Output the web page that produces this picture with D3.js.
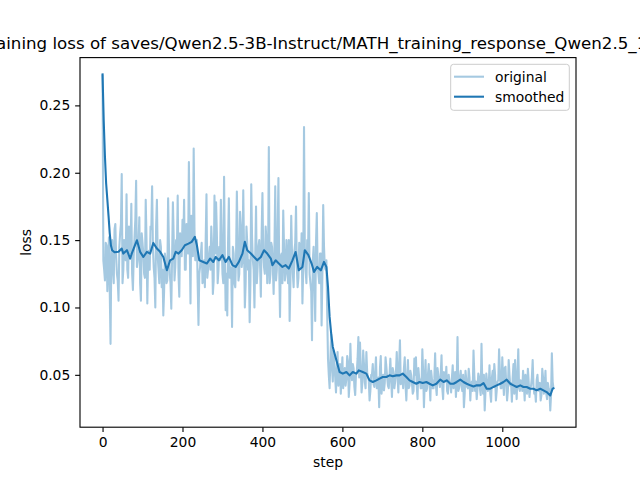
<!DOCTYPE html>
<html><head><meta charset="utf-8">
<script src="https://cdn.jsdelivr.net/npm/d3@7"></script>
<style>
body{margin:0;background:#fff}
svg{display:block}
text{font-family:"DejaVu Sans",sans-serif}
</style>
</head><body>
<svg id="chart" width="640" height="480"></svg>
<script>
const TITLE = "Training loss of saves/Qwen2.5-3B-Instruct/MATH_training_response_Qwen2.5_1.5B";
const X_LABEL = "step";
const Y_LABEL = "loss";
const seriesNames = ["original", "smoothed"];
const xTicks = [0, 200, 400, 600, 800, 1000];
const yTicks = [0.05, 0.10, 0.15, 0.20, 0.25];

// original loss read at steps 0, 4, 8, ... 1128
const lossAtStepMod4 = [
0.273, 0.128, 0.148, 0.112, 0.152, 0.073,
0.150, 0.118, 0.162, 0.125, 0.105, 0.155, 0.199, 0.128, 0.145, 0.184,
0.122, 0.140, 0.177, 0.113, 0.152, 0.194, 0.135, 0.167, 0.105, 0.148,
0.125, 0.180, 0.103, 0.142, 0.160, 0.190, 0.130, 0.100, 0.180, 0.128,
0.150, 0.115, 0.094, 0.140, 0.118, 0.181, 0.125, 0.099, 0.178, 0.120,
0.150, 0.183, 0.108, 0.140, 0.165, 0.180, 0.128, 0.152, 0.208, 0.103,
0.160, 0.218, 0.135, 0.150, 0.087, 0.130, 0.148, 0.120, 0.115, 0.184,
0.128, 0.145, 0.160, 0.110, 0.183,
0.178, 0.118, 0.145, 0.180, 0.125, 0.197, 0.098, 0.094, 0.181, 0.130,
0.0855, 0.140, 0.115, 0.186, 0.120, 0.171, 0.130, 0.187, 0.100, 0.160,
0.128, 0.089, 0.1915, 0.135, 0.100, 0.175, 0.130, 0.150, 0.108, 0.185,
0.130, 0.160, 0.118, 0.219, 0.125, 0.145, 0.110, 0.190, 0.128, 0.196,
0.093, 0.140, 0.172, 0.120, 0.150, 0.118, 0.090, 0.168, 0.125, 0.142,
0.175, 0.115, 0.148, 0.130, 0.103, 0.234, 0.128, 0.150, 0.185, 0.118,
0.0757, 0.145, 0.090, 0.170, 0.125, 0.140, 0.0867, 0.176, 0.130, 0.135,
0.062, 0.040,
0.080, 0.045, 0.058, 0.037, 0.067, 0.048, 0.036, 0.063, 0.050, 0.042,
0.064, 0.0335, 0.073, 0.046, 0.055, 0.035, 0.052, 0.078, 0.074, 0.037,
0.068, 0.045, 0.067, 0.048, 0.031, 0.050, 0.058, 0.041, 0.063, 0.044,
0.026, 0.064, 0.045, 0.0385, 0.063, 0.048, 0.040, 0.062, 0.0335, 0.052,
0.045, 0.067, 0.037, 0.0756, 0.046, 0.040, 0.063, 0.031, 0.061, 0.042,
0.050, 0.036, 0.062, 0.063, 0.032, 0.048, 0.040, 0.069, 0.026, 0.061,
0.040, 0.058, 0.031, 0.047, 0.040, 0.066, 0.035, 0.050, 0.041,
0.0645, 0.032, 0.048, 0.056, 0.036, 0.045, 0.037, 0.057, 0.042, 0.0335,
0.078, 0.040, 0.053, 0.038, 0.026, 0.053, 0.041, 0.0545, 0.031, 0.045,
0.068, 0.038, 0.032, 0.051, 0.040, 0.073, 0.036, 0.0236, 0.051, 0.038,
0.057, 0.030, 0.053, 0.058, 0.031, 0.045, 0.069, 0.040, 0.063, 0.035,
0.056, 0.031, 0.061, 0.042, 0.030, 0.058, 0.061, 0.032, 0.069, 0.038,
0.045, 0.053, 0.031, 0.044, 0.0545, 0.0335, 0.042, 0.061, 0.036, 0.030,
0.050, 0.038, 0.031, 0.0545, 0.036, 0.053, 0.032, 0.040, 0.0236, 0.066,
0.040
];

// original loss read at steps 2, 6, 10, ... 1126
const lossAtStepMod4Plus2 = [
0.135, 0.120, 0.146, 0.132, 0.112, 0.140, 0.128, 0.158, 0.138, 0.120,
0.145, 0.162, 0.118, 0.150, 0.135, 0.128, 0.160, 0.142, 0.125, 0.138,
0.165, 0.130, 0.148, 0.118, 0.155, 0.140, 0.122, 0.150, 0.135, 0.128,
0.158, 0.145, 0.122, 0.160, 0.138, 0.118, 0.145, 0.128, 0.112, 0.135,
0.120, 0.148, 0.118, 0.138, 0.152, 0.130, 0.142, 0.125, 0.155, 0.138,
0.145, 0.128, 0.162, 0.140, 0.150, 0.168, 0.138, 0.158, 0.145, 0.118,
0.125, 0.140, 0.118, 0.135, 0.150, 0.122, 0.138, 0.128, 0.145, 0.120,
0.140, 0.155, 0.128, 0.135, 0.150, 0.118, 0.138, 0.125, 0.148, 0.122,
0.128, 0.145, 0.118, 0.138, 0.150, 0.125, 0.160, 0.135, 0.142, 0.118,
0.148, 0.135, 0.120, 0.152, 0.128, 0.140, 0.118, 0.145, 0.132, 0.155,
0.140, 0.125, 0.150, 0.135, 0.118, 0.148, 0.130, 0.142, 0.120, 0.155,
0.128, 0.138, 0.118, 0.145, 0.125, 0.135, 0.150, 0.120, 0.140, 0.115,
0.148, 0.130, 0.122, 0.140, 0.155, 0.128, 0.145, 0.118, 0.138, 0.125,
0.112, 0.135, 0.120, 0.148, 0.130, 0.118, 0.140, 0.125, 0.145, 0.128,
0.095, 0.050, 0.062,
0.055, 0.068, 0.048, 0.056, 0.042, 0.058, 0.050,
0.040, 0.055, 0.047, 0.060, 0.044, 0.052, 0.058, 0.041, 0.050, 0.062,
0.048, 0.055, 0.044, 0.058, 0.040, 0.052, 0.046, 0.038, 0.050, 0.043,
0.052, 0.040, 0.048, 0.055, 0.036, 0.050, 0.044, 0.056, 0.042, 0.050,
0.046, 0.055, 0.040, 0.052, 0.048, 0.058, 0.043, 0.050, 0.055, 0.042,
0.048, 0.040, 0.053, 0.044, 0.038, 0.050, 0.042, 0.055, 0.046, 0.040,
0.052, 0.044, 0.038, 0.050, 0.045, 0.053, 0.040, 0.047, 0.042, 0.055,
0.044, 0.050, 0.040, 0.052, 0.045, 0.038, 0.050, 0.043, 0.048, 0.040,
0.052, 0.045, 0.038, 0.048, 0.042, 0.050, 0.036, 0.046, 0.040, 0.048,
0.043, 0.038, 0.050, 0.045, 0.040, 0.048, 0.035, 0.044, 0.050, 0.038,
0.045, 0.040, 0.036, 0.048, 0.042, 0.050, 0.038, 0.046, 0.052, 0.040,
0.048, 0.055, 0.042, 0.038, 0.050, 0.044, 0.048, 0.036, 0.045, 0.050,
0.040, 0.046, 0.038, 0.043, 0.050, 0.036, 0.045, 0.040, 0.048, 0.042,
0.038, 0.046, 0.040, 0.044, 0.035, 0.048, 0.040, 0.036, 0.044, 0.038,
0.035, 0.045
];

const smoothSteps = [
0, 3, 6, 9, 12, 15, 18, 21, 24, 30, 40, 48, 52, 61, 69, 73, 86, 94, 102, 111,
119, 127, 136, 144, 152, 161, 169, 177, 183, 190, 198, 206, 215, 223, 231, 236, 242, 252, 261, 269,
277, 283, 291, 300, 308, 316, 325, 333, 341, 350, 356, 362, 371, 379, 387, 396, 404, 412, 421, 425,
433, 441, 450, 458, 466, 475, 483, 491, 500, 506, 515, 523, 529, 537, 546, 554, 560, 564, 568, 572,
576, 585, 593, 601, 610, 618, 626, 635, 641, 651, 660, 668, 676, 685, 693, 701, 710, 718, 726, 735,
743, 751, 760, 768, 776, 785, 793, 801, 810, 818, 826, 835, 845, 853, 861, 870, 878, 886, 895, 903,
911, 920, 928, 936, 945, 953, 961, 970, 978, 986, 995, 1003, 1011, 1020, 1028, 1036, 1045, 1053, 1061, 1070,
1078, 1086, 1095, 1103, 1111, 1120, 1126, 1128
];
const smoothLoss = [
0.273, 0.238, 0.212, 0.192, 0.180, 0.168, 0.155, 0.146, 0.1425, 0.141, 0.1413, 0.1437, 0.1400, 0.1425, 0.1363, 0.1400, 0.1499, 0.1413, 0.1375, 0.1413,
0.1400, 0.1479, 0.1437, 0.1413, 0.1375, 0.1276, 0.1350, 0.1363, 0.1413, 0.1400, 0.1425, 0.1462, 0.1474, 0.1487, 0.1524, 0.1462, 0.1350, 0.1338, 0.1326, 0.1363,
0.1338, 0.1375, 0.1350, 0.1388, 0.1338, 0.1375, 0.1314, 0.1301, 0.1338, 0.1400, 0.1488, 0.1425, 0.1400, 0.1375, 0.1350, 0.1375, 0.1425, 0.1400, 0.1363, 0.1314,
0.1350, 0.1326, 0.1301, 0.1314, 0.1289, 0.1350, 0.1412, 0.1276, 0.1301, 0.1425, 0.1388, 0.1326, 0.1264, 0.1301, 0.1276, 0.1338, 0.1301, 0.1152, 0.0930, 0.0806,
0.0707, 0.0608, 0.0521, 0.0509, 0.0521, 0.0496, 0.0521, 0.0509, 0.0533, 0.0521, 0.0509, 0.0459, 0.0447, 0.0459, 0.0472, 0.0484, 0.0484, 0.0496, 0.0489, 0.0496,
0.0496, 0.0509, 0.0484, 0.0459, 0.0447, 0.0434, 0.0447, 0.0440, 0.0447, 0.0434, 0.0422, 0.0434, 0.0465, 0.0447, 0.0459, 0.0434, 0.0434, 0.0447, 0.0464, 0.0447,
0.0434, 0.0422, 0.0414, 0.0422, 0.0422, 0.0439, 0.0397, 0.0397, 0.0410, 0.0422, 0.0434, 0.0447, 0.0464, 0.0434, 0.0422, 0.0410, 0.0422, 0.0410, 0.0410, 0.0397,
0.0397, 0.0385, 0.0397, 0.0385, 0.0372, 0.0347, 0.0397, 0.0400
];

const W = 640, H = 480;
const box = {left: 80, right: 576, top: 57.6, bottom: 427.2};
const PT = 100 / 72;
const C0 = "#1f77b4";

const original = lossAtStepMod4.map((v, i) => ({step: i * 4, loss: v}))
  .concat(lossAtStepMod4Plus2.map((v, i) => ({step: i * 4 + 2, loss: v})))
  .sort((a, b) => a.step - b.step);
const smoothed = smoothSteps.map((s, i) => ({step: s, loss: smoothLoss[i]}));

const xExt = d3.extent(original.concat(smoothed), d => d.step);
const xPad = (xExt[1] - xExt[0]) * 0.05;
const yExt = d3.extent(original.concat(smoothed), d => d.loss);
const yPad = (yExt[1] - yExt[0]) * 0.05;

const x = d3.scaleLinear().domain([xExt[0] - xPad, xExt[1] + xPad]).range([box.left, box.right]);
const y = d3.scaleLinear().domain([yExt[0] - yPad, yExt[1] + yPad]).range([box.bottom, box.top]);

const svg = d3.select("#chart");
svg.append("rect").attr("width", W).attr("height", H).attr("fill", "#fff");

svg.append("defs").append("clipPath").attr("id", "clip")
  .append("rect").attr("x", box.left).attr("y", box.top)
  .attr("width", box.right - box.left).attr("height", box.bottom - box.top);

const line = d3.line().x(d => x(d.step)).y(d => y(d.loss));
const plot = svg.append("g").attr("clip-path", "url(#clip)");
plot.append("path").datum(original).attr("d", line)
  .attr("fill", "none").attr("stroke", C0).attr("stroke-opacity", 0.4)
  .attr("stroke-width", 1.5 * PT).attr("stroke-linejoin", "round");
plot.append("path").datum(smoothed).attr("d", line)
  .attr("fill", "none").attr("stroke", C0)
  .attr("stroke-width", 1.5 * PT).attr("stroke-linejoin", "round").attr("stroke-linecap", "square");

const tickLen = 3.5 * PT;
const fs = 10 * PT;
const gx = svg.append("g").attr("transform", `translate(0,${box.bottom})`)
  .call(d3.axisBottom(x).tickValues(xTicks).tickFormat(d3.format("d")).tickSize(tickLen).tickPadding(tickLen));
const gy = svg.append("g").attr("transform", `translate(${box.left},0)`)
  .call(d3.axisLeft(y).tickValues(yTicks).tickFormat(d3.format(".2f")).tickSize(tickLen).tickPadding(tickLen));
[gx, gy].forEach(g => {
  g.select(".domain").remove();
  g.selectAll(".tick line").attr("stroke", "#000").attr("stroke-width", 0.8 * PT);
  g.selectAll(".tick text").attr("fill", "#000").style("font-family", "DejaVu Sans").style("font-size", fs + "px");
});

svg.append("rect").attr("x", box.left).attr("y", box.top)
  .attr("width", box.right - box.left).attr("height", box.bottom - box.top)
  .attr("fill", "none").attr("stroke", "#000").attr("stroke-width", 0.8 * PT);

svg.append("text").attr("x", (box.left + box.right) / 2).attr("y", 49)
  .attr("text-anchor", "middle").style("font-size", (12 * PT) + "px").attr("fill", "#000").text(TITLE);
svg.append("text").attr("x", (box.left + box.right) / 2).attr("y", 467)
  .attr("text-anchor", "middle").style("font-size", fs + "px").attr("fill", "#000").text(X_LABEL);
svg.append("text").attr("transform", `translate(31,${(box.top + box.bottom) / 2}) rotate(-90)`)
  .attr("text-anchor", "middle").style("font-size", fs + "px").attr("fill", "#000").text(Y_LABEL);

// legend
const lg = svg.append("g");
lg.append("rect").attr("x", 450.7).attr("y", 64.3).attr("width", 118.6).attr("height", 46)
  .attr("rx", 2.8).attr("fill", "#fff").attr("fill-opacity", 0.8).attr("stroke", "#cccccc").attr("stroke-width", 1);
const legendOpacity = [0.4, 1];
seriesNames.forEach((name, i) => {
  const ly = 76.7 + i * 20;
  lg.append("line").attr("x1", 454).attr("x2", 484).attr("y1", ly).attr("y2", ly)
    .attr("stroke", C0).attr("stroke-opacity", legendOpacity[i]).attr("stroke-width", 1.5 * PT);
  lg.append("text").attr("x", 495).attr("y", ly).attr("dy", "0.35em")
    .style("font-size", fs + "px").attr("fill", "#000").text(name);
});
</script>
</body></html>
